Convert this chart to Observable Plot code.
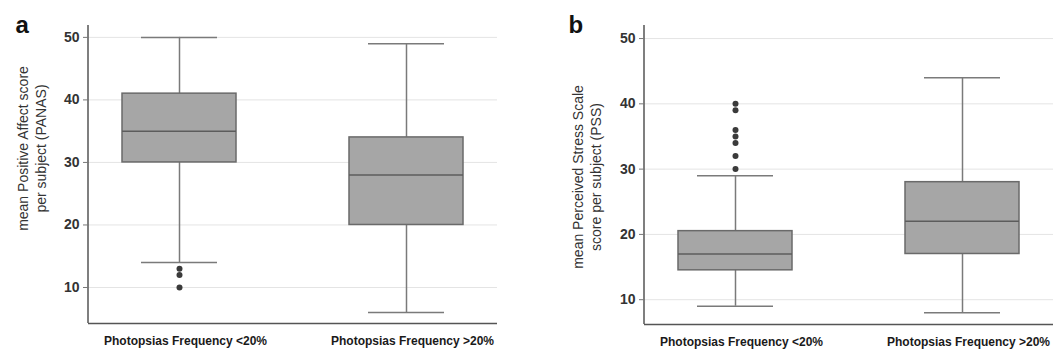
<!DOCTYPE html>
<html>
<head>
<meta charset="utf-8">
<script src="https://cdn.jsdelivr.net/npm/d3@7"></script>
<script src="https://cdn.jsdelivr.net/npm/@observablehq/plot@0.6"></script>
<style>
  html, body { margin: 0; padding: 0; background: #fff; }
  #wrap { display: flex; width: 1054px; height: 353px; }
</style>
</head>
<body>
<div id="wrap"></div>
<script>
// ---- data ----
const groups = ["Photopsias Frequency <20%", "Photopsias Frequency >20%"];
const yTicks = [10, 20, 30, 40, 50];

// Panel a: PANAS
const panasMin = [14, 6];
const panasQ1 = [30, 20];
const panasMedian = [35, 28];
const panasQ3 = [41, 34];
const panasMax = [50, 49];
const panasOutlierGroup = [0, 0, 0];
const panasOutlierValue = [13, 12, 10];

// Panel b: PSS
const pssMin = [9, 8];
const pssQ1 = [14.5, 17];
const pssMedian = [17, 22];
const pssQ3 = [20.5, 28];
const pssMax = [29, 44];
const pssOutlierGroup = [0, 0, 0, 0, 0, 0, 0];
const pssOutlierValue = [40, 39, 36, 35, 34, 32, 30];

function panel(o) {
  const boxes = groups.map((g, i) => ({group: g, min: o.min[i], q1: o.q1[i], median: o.median[i], q3: o.q3[i], max: o.max[i]}));
  const outliers = o.outG.map((gi, i) => ({group: groups[gi], value: o.outV[i]}));
  const whisker = {stroke: "#7a7a7a", strokeWidth: 1.5};
  const cap = {insetLeft: 19, insetRight: 19, stroke: "#7a7a7a", strokeWidth: 1.5};
  return Plot.plot({
    width: 527,
    height: 353,
    marginLeft: o.marginLeft,
    marginRight: o.marginRight,
    marginTop: 25,
    marginBottom: o.marginBottom,
    style: {fontFamily: "'Liberation Sans', Arial, sans-serif", fontSize: "12px", color: "#222", background: "#fff"},
    x: {domain: groups, paddingInner: 0.5, paddingOuter: 0.15, label: null},
    y: {domain: o.yDomain, label: null},
    marks: [
      Plot.gridY(yTicks, {stroke: "#e4e4e4", strokeOpacity: 1, strokeWidth: 1}),
      Plot.ruleX(boxes, {x: "group", y1: "min", y2: "q1", ...whisker}),
      Plot.ruleX(boxes, {x: "group", y1: "q3", y2: "max", ...whisker}),
      Plot.tickY(boxes, {x: "group", y: "min", ...cap}),
      Plot.tickY(boxes, {x: "group", y: "max", ...cap}),
      Plot.barY(boxes, {x: "group", y1: "q1", y2: "q3", fill: "#a6a6a6", stroke: "#6a6a6a", strokeWidth: 1.5}),
      Plot.tickY(boxes, {x: "group", y: "median", stroke: "#5c5c5c", strokeWidth: 1.5}),
      Plot.dot(outliers, {x: "group", y: "value", r: 3, fill: "#3a3a3a", stroke: "none"}),
      Plot.ruleY([o.yDomain[0]], {stroke: "#555", strokeWidth: 1.5}),
      (index, scales, values, dims) => {
        const g = d3.create("svg:g");
        g.append("line")
          .attr("x1", dims.marginLeft).attr("x2", dims.marginLeft)
          .attr("y1", dims.marginTop).attr("y2", dims.height - dims.marginBottom)
          .attr("stroke", "#555").attr("stroke-width", 1.5);
        return g.node();
      },
      Plot.axisY({ticks: yTicks, tickSize: 5, tickPadding: 4, fontWeight: "bold", fontSize: 14, fill: "#333", stroke: "#777", label: null}),
      Plot.axisX({tickSize: 0, tickPadding: 13, dx: 6, fontSize: 12, fontWeight: "bold", fill: "#1a1a1a", label: null}),
      Plot.text([o.title], {frameAnchor: "middle", rotate: -90, dx: o.titleDx, dy: o.titleDy, fontSize: 14, lineHeight: 1.25, fill: "#333", textAnchor: "middle", lineAnchor: "middle"}),
      Plot.text([o.letter], {frameAnchor: "top-left", dx: o.letterDx, dy: 7, fontSize: 24, fontWeight: "bold", fill: "#111", textAnchor: "start", lineAnchor: "bottom"})
    ]
  });
}

const wrap = document.getElementById("wrap");
wrap.append(panel({
  min: panasMin, q1: panasQ1, median: panasMedian, q3: panasQ3, max: panasMax,
  outG: panasOutlierGroup, outV: panasOutlierValue,
  yDomain: [4.24, 51.9], marginLeft: 88, marginRight: 30, marginBottom: 30,
  title: "mean Positive Affect score\nper subject (PANAS)", titleDx: -261.5, titleDy: -26,
  letter: "a", letterDx: -73
}));
wrap.append(panel({
  min: pssMin, q1: pssQ1, median: pssMedian, q3: pssQ3, max: pssMax,
  outG: pssOutlierGroup, outV: pssOutlierValue,
  yDomain: [6.2, 52], marginLeft: 117, marginRight: 1, marginBottom: 29,
  title: "mean Perceived Stress Scale\nscore per subject (PSS)", titleDx: -262.5, titleDy: 2,
  letter: "b", letterDx: -76
}));
</script>
</body>
</html>
